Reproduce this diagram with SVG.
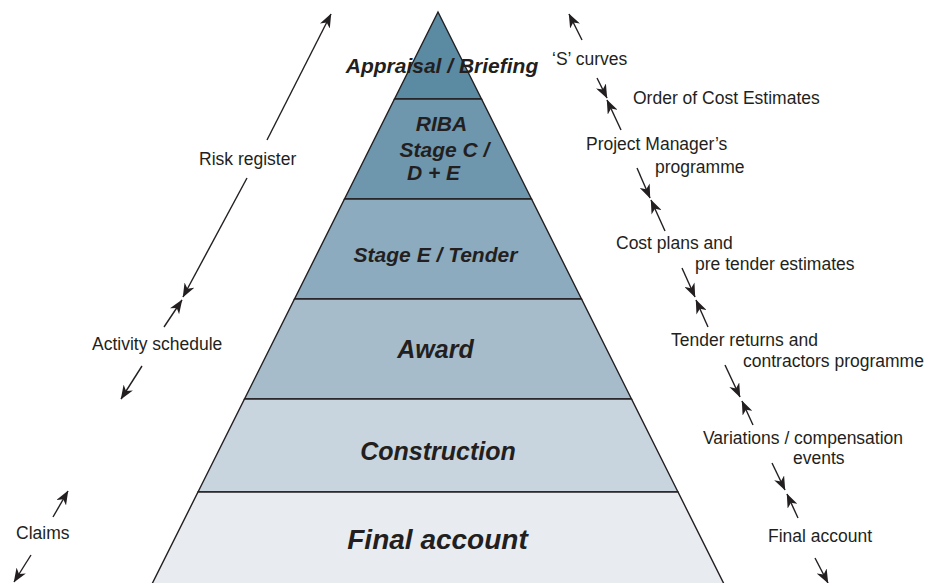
<svg xmlns="http://www.w3.org/2000/svg" width="928" height="583" viewBox="0 0 928 583">
  <style>
    .band { stroke: #231f20; stroke-width: 1.4; stroke-linejoin: miter; }
    .stage { font-family: "Liberation Sans", Arial, sans-serif; font-weight: bold; font-style: italic; fill: #231f20; text-anchor: middle; }
    .s21 { font-size: 21px; }
    .s25 { font-size: 25px; }
    .s28 { font-size: 28px; }
    .note { font-family: "Liberation Sans", Arial, sans-serif; font-size: 17.5px; fill: #231f20; }
    .arrow { stroke: #231f20; stroke-width: 1.4; fill: none; marker-end: url(#head); }
  </style>
  <defs>
    <marker id="head" markerUnits="userSpaceOnUse" viewBox="0 0 14 11" refX="13.5" refY="5.5" markerWidth="14" markerHeight="11" orient="auto">
      <path d="M0,0 L14,5.5 L0,11 L4,5.5 Z" fill="#231f20"/>
    </marker>
  </defs>
  <rect width="928" height="583" fill="#ffffff"/>

  <!-- pyramid bands, apex at (438,12), sides slope 0.5 -->
  <g id="band-appraisal">
    <polygon class="band" points="438,12 481.5,99 394.5,99" fill="#5b8aa3"/>
  </g>
  <g id="band-riba">
    <polygon class="band" points="394.5,99 481.5,99 531.5,199 344.5,199" fill="#6e97ae"/>
  </g>
  <g id="band-tender">
    <polygon class="band" points="344.5,199 531.5,199 581.5,299 294.5,299" fill="#8dabbe"/>
  </g>
  <g id="band-award">
    <polygon class="band" points="294.5,299 581.5,299 631.5,399 244.5,399" fill="#a7bccb"/>
  </g>
  <g id="band-construction">
    <polygon class="band" points="244.5,399 631.5,399 678,492 198,492" fill="#c8d4de"/>
  </g>
  <g id="band-final">
    <polygon class="band" points="198,492 678,492 724,584 152,584" fill="#e8ecf1"/>
  </g>

  <!-- stage titles -->
  <g id="title-appraisal"><text class="stage s21" x="442" y="73">Appraisal / Briefing</text></g>
  <g id="title-riba">
    <text class="stage s21" x="441.5" y="131">RIBA</text>
    <text class="stage s21" x="444.5" y="157">Stage C /</text>
    <text class="stage s21" x="433.5" y="180">D + E</text>
  </g>
  <g id="title-tender"><text class="stage s21" x="435.5" y="262">Stage E / Tender</text></g>
  <g id="title-award"><text class="stage s25" x="435.5" y="358">Award</text></g>
  <g id="title-construction"><text class="stage s25" x="438" y="460">Construction</text></g>
  <g id="title-final"><text class="stage s28" x="437.5" y="549">Final account</text></g>

  <!-- left-hand notes -->
  <g id="note-risk"><text class="note" x="199" y="165">Risk register</text></g>
  <g id="note-activity"><text class="note" x="92" y="350">Activity schedule</text></g>
  <g id="note-claims"><text class="note" x="16" y="539">Claims</text></g>

  <!-- right-hand notes -->
  <g id="note-scurves"><text class="note" x="552" y="65">‘S’ curves</text></g>
  <g id="note-order"><text class="note" x="633" y="104">Order of Cost Estimates</text></g>
  <g id="note-pm">
    <text class="note" x="586" y="150">Project Manager’s</text>
    <text class="note" x="655" y="173">programme</text>
  </g>
  <g id="note-costplans">
    <text class="note" x="616" y="249">Cost plans and</text>
    <text class="note" x="695" y="270">pre tender estimates</text>
  </g>
  <g id="note-returns">
    <text class="note" x="671" y="346">Tender returns and</text>
    <text class="note" x="743" y="367">contractors programme</text>
  </g>
  <g id="note-variations">
    <text class="note" x="703" y="444">Variations / compensation</text>
    <text class="note" x="793" y="464">events</text>
  </g>
  <g id="note-final"><text class="note" x="768" y="542">Final account</text></g>

  <!-- connectors -->
  <g id="connectors">
    <line class="arrow" x1="267" y1="140" x2="331" y2="14"/>
    <line class="arrow" x1="247" y1="178" x2="183" y2="297"/>
    <line class="arrow" x1="164" y1="327" x2="182" y2="300"/>
    <line class="arrow" x1="142" y1="366" x2="121" y2="399"/>
    <line class="arrow" x1="53" y1="517" x2="68" y2="491"/>
    <line class="arrow" x1="31" y1="555" x2="14" y2="582"/>

    <line class="arrow" x1="582" y1="40" x2="569" y2="14"/>
    <line class="arrow" x1="597" y1="78" x2="607" y2="98"/>
    <line class="arrow" x1="621" y1="130" x2="607" y2="100"/>
    <line class="arrow" x1="637" y1="168" x2="650" y2="198"/>
    <line class="arrow" x1="665" y1="231" x2="651" y2="200"/>
    <line class="arrow" x1="682" y1="268" x2="695" y2="297"/>
    <line class="arrow" x1="708" y1="327" x2="696" y2="300"/>
    <line class="arrow" x1="725" y1="365" x2="740" y2="397"/>
    <line class="arrow" x1="753" y1="425" x2="742" y2="401"/>
    <line class="arrow" x1="772" y1="463" x2="785" y2="490"/>
    <line class="arrow" x1="798" y1="518" x2="787" y2="494"/>
    <line class="arrow" x1="815" y1="558" x2="828" y2="583"/>
  </g>
</svg>
